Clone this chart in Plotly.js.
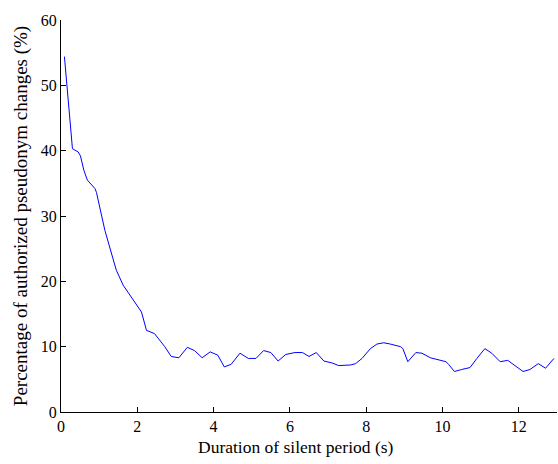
<!DOCTYPE html>
<html>
<head>
<meta charset="utf-8">
<script src="https://cdn.plot.ly/plotly-3.0.1.min.js"></script>
<style>html,body{margin:0;padding:0;background:#fff;}#chart{width:558px;height:464px;}</style>
</head>
<body>
<div id="chart"></div>
<script>
const durationSeconds = [0.09,0.16,0.19,0.24,0.26,0.30,0.45,0.51,0.60,0.69,0.89,0.93,1.15,1.28,1.45,1.63,1.80,1.96,2.11,2.24,2.31,2.45,2.72,2.89,3.09,3.31,3.50,3.70,3.91,4.11,4.28,4.46,4.69,4.91,5.11,5.31,5.50,5.69,5.89,6.13,6.33,6.50,6.69,6.89,7.11,7.28,7.59,7.72,7.89,8.11,8.28,8.46,8.63,8.90,8.96,9.09,9.30,9.46,9.68,9.90,10.09,10.16,10.31,10.50,10.72,10.90,11.11,11.29,11.51,11.71,11.91,12.11,12.29,12.51,12.70,12.92];
const percentChanges = [54.4,49.5,47.5,45.2,43.5,40.3,39.8,39.2,37.0,35.5,34.2,33.6,27.8,25.3,21.7,19.4,17.9,16.6,15.3,12.5,12.3,12.0,10.0,8.5,8.3,9.9,9.4,8.3,9.2,8.7,6.9,7.3,9.0,8.2,8.2,9.4,9.1,7.8,8.8,9.1,9.1,8.5,9.1,7.8,7.5,7.1,7.2,7.4,8.2,9.7,10.4,10.6,10.4,10.0,9.7,7.7,9.1,9.0,8.3,8.0,7.7,7.3,6.2,6.5,6.8,8.2,9.7,9.0,7.7,7.9,7.0,6.2,6.5,7.4,6.7,8.2];
const xTicks = [0,2,4,6,8,10,12];
const yTicks = [0,10,20,30,40,50,60];
const xTitle = 'Duration of silent period (s)';
const yTitle = 'Percentage of authorized pseudonym changes (%)';

const family = '"Liberation Serif", "Times New Roman", serif';
const tickFont = {family: family, size: 16, color: '#000'};

Plotly.newPlot('chart', [{
  x: durationSeconds,
  y: percentChanges,
  type: 'scatter',
  mode: 'lines',
  line: {color: '#0000ff', width: 1}
}], {
  width: 558, height: 464,
  margin: {l: 61, r: 1, t: 20, b: 52},
  paper_bgcolor: '#fff', plot_bgcolor: '#fff',
  showlegend: false,
  font: tickFont,
  xaxis: {
    range: [0, 13], tickvals: xTicks, ticktext: xTicks.map(String),
    ticks: 'inside', ticklen: 5, tickcolor: '#000', showgrid: false, zeroline: false,
    showline: true, linecolor: '#000', linewidth: 1, tickfont: tickFont
  },
  yaxis: {
    range: [0, 60], tickvals: yTicks, ticktext: yTicks.map(String),
    ticks: 'inside', ticklen: 5, tickcolor: '#000', showgrid: false, zeroline: false,
    showline: true, linecolor: '#000', linewidth: 1, tickfont: tickFont,
    title: {text: yTitle, font: {family: family, size: 19, color: '#000'}, standoff: 8}
  },
  annotations: [{
    text: xTitle, xref: 'paper', yref: 'paper', x: 0.473, y: -0.089,
    xanchor: 'center', yanchor: 'middle', showarrow: false,
    font: {family: family, size: 17.5, color: '#000'}
  }]
}, {displayModeBar: false, staticPlot: true});
</script>
</body>
</html>
